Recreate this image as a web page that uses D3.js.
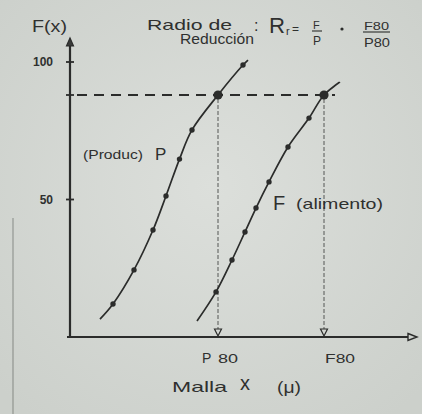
<!DOCTYPE html>
<html>
<head>
<meta charset="utf-8">
<script src="https://cdn.jsdelivr.net/npm/d3@7"></script>
<style>
  html, body { margin: 0; padding: 0; background: #d5d9d4; }
  svg { display: block; }
  text { font-family: "Liberation Sans", "DejaVu Sans", sans-serif; fill: #2f302f; }
</style>
</head>
<body>
<svg id="chart" width="422" height="414"></svg>
<script>
// Cumulative passing F(x) against screen size x, for product (P) and feed (F)
const producMalla = [30, 43, 64, 83, 96, 109.5, 122, 148, 173, 178];
const producF     = [6.5, 12, 24.4, 38.9, 51.3, 64.7, 75.3, 88, 98.9, 100.7];
const producDot   = [false, true, true, true, true, true, true, true, true, false];

const alimMalla = [127, 146, 162, 175, 186, 199, 218, 239, 254, 270];
const alimF     = [5.8, 16.4, 28, 38.2, 46.9, 56.4, 69.1, 79.6, 88, 92.7];
const alimDot   = [false, true, true, true, true, true, true, true, true, false];

// 80 % passing reference level and the sizes read at it
const nivel = 88;
const p80 = 148;
const f80 = 254;

const yTicks = [100, 50];
const yTickLabels = ["100", "50"];

const svg = d3.select("#chart");
const ink = "#2b2c2b";

// paper tone, slightly darker towards the edges
const defs = svg.append("defs");
const grad = defs.append("radialGradient").attr("id", "papel")
  .attr("cx", "50%").attr("cy", "45%").attr("r", "70%");
grad.append("stop").attr("offset", "0%").attr("stop-color", "#dcdfdb");
grad.append("stop").attr("offset", "100%").attr("stop-color", "#ccd0cb");
svg.append("rect").attr("width", 422).attr("height", 414).attr("fill", "url(#papel)");

const x = d3.scaleLinear().domain([0, 350]).range([70, 420]);
const y = d3.scaleLinear().domain([0, 100]).range([337, 62]);

// binding mark on the left of the sheet
svg.append("line")
  .attr("x1", 13).attr("x2", 13).attr("y1", 218).attr("y2", 414)
  .attr("stroke", "#7d807c").attr("stroke-width", 1.1).attr("opacity", 0.8);

// axes
svg.append("line")
  .attr("x1", x(0)).attr("x2", x(0)).attr("y1", y(0)).attr("y2", y(100) - 16)
  .attr("stroke", ink).attr("stroke-width", 2.2);
svg.append("path")
  .attr("d", `M${x(0)},${y(100) - 24} L${x(0) - 3.5},${y(100) - 16} L${x(0) + 3.5},${y(100) - 16} Z`)
  .attr("fill", "#3a3b3a").attr("stroke", ink).attr("stroke-width", 1.2);

svg.append("line")
  .attr("x1", x(0) - 3).attr("x2", x(338)).attr("y1", y(0)).attr("y2", y(0))
  .attr("stroke", ink).attr("stroke-width", 2.2);
svg.append("path")
  .attr("d", `M${x(338)},${y(0) - 3.5} L${x(347)},${y(0)} L${x(338)},${y(0) + 3.5} Z`)
  .attr("fill", "none").attr("stroke", ink).attr("stroke-width", 1.4);

// y ticks and labels
svg.selectAll(".ytick").data(yTicks.concat([nivel])).join("line")
  .attr("x1", x(0) - 4).attr("x2", x(0) + 4)
  .attr("y1", d => y(d)).attr("y2", d => y(d))
  .attr("stroke", ink).attr("stroke-width", 1.8);
svg.selectAll(".ylab").data(yTicks).join("text")
  .attr("x", x(0) - 17).attr("y", d => y(d) + 4)
  .attr("text-anchor", "end").attr("font-size", 12).attr("font-weight", "bold")
  .attr("fill", "#3a3b3a")
  .text((d, i) => yTickLabels[i]);

// 80 % level, dashed
svg.append("line")
  .attr("x1", x(0) + 7).attr("x2", x(f80) + 11)
  .attr("y1", y(nivel)).attr("y2", y(nivel))
  .attr("stroke", ink).attr("stroke-width", 1.8).attr("stroke-dasharray", "10,7");

// drop lines to the axis with open arrow heads
[p80, f80].forEach(v => {
  svg.append("line")
    .attr("x1", x(v)).attr("x2", x(v)).attr("y1", y(nivel) + 4).attr("y2", y(0) - 8)
    .attr("stroke", "#555755").attr("stroke-width", 1).attr("stroke-dasharray", "4,2");
  svg.append("path")
    .attr("d", `M${x(v) - 3.5},${y(0) - 8} L${x(v) + 3.5},${y(0) - 8} L${x(v)},${y(0) - 1} Z`)
    .attr("fill", "none").attr("stroke", ink).attr("stroke-width", 1.2);
});

// curves
const line = d3.line().x(d => x(d[0])).y(d => y(d[1])).curve(d3.curveCatmullRom.alpha(0.5));
function serie(malla, f, dot) {
  const pts = malla.map((m, i) => [m, f[i], dot[i]]);
  svg.append("path").attr("d", line(pts))
    .attr("fill", "none").attr("stroke", ink).attr("stroke-width", 1.7);
  svg.selectAll(null).data(pts.filter(p => p[2])).join("circle")
    .attr("cx", p => x(p[0])).attr("cy", p => y(p[1]))
    .attr("r", p => p[1] === nivel ? 4.6 : 2.7)
    .attr("fill", ink);
}
serie(producMalla, producF, producDot);
serie(alimMalla, alimF, alimDot);

// texts
function txt(s, px, py, size, opts = {}) {
  const t = svg.append("text").attr("x", px).attr("y", py).attr("font-size", size).text(s);
  if (opts.len) t.attr("textLength", opts.len).attr("lengthAdjust", "spacingAndGlyphs");
  if (opts.anchor) t.attr("text-anchor", opts.anchor);
  if (opts.style) t.attr("font-style", opts.style);
  return t;
}

txt("F(x)", 32, 32, 17, { len: 35 });

txt("Radio de", 147, 30, 15, { len: 85 });
txt("Reducción", 180, 44, 14, { len: 74 });
txt(":", 254, 31, 16);
txt("R", 269, 33, 22, { len: 16 });
txt("r", 286, 35, 11);
txt("=", 292, 33, 12);
txt("F", 313, 29, 11);
svg.append("line").attr("x1", 312).attr("x2", 322).attr("y1", 31).attr("y2", 31)
  .attr("stroke", ink).attr("stroke-width", 1.1);
txt("P", 313, 45, 12);
svg.append("circle").attr("cx", 342).attr("cy", 29).attr("r", 1.6).attr("fill", ink);
txt("F80", 364, 30, 11, { len: 25 });
svg.append("line").attr("x1", 363).attr("x2", 390).attr("y1", 32).attr("y2", 32)
  .attr("stroke", ink).attr("stroke-width", 1.1);
txt("P80", 364, 47, 12, { len: 26 });

txt("(Produc)", 83, 159, 13, { len: 60 });
txt("P", 155, 160, 17);

txt("F", 273, 210, 20);
txt("(alimento)", 296, 209, 15, { len: 87 });

txt("P", x(p80) - 16, 363, 14);
txt("80", x(p80), 363, 12, { len: 20 });
txt("F80", x(f80) + 1, 363, 13, { len: 30 });

txt("Malla", 172, 392, 15, { len: 55 });
txt("x", 240, 390, 20);
txt("(μ)", 277, 393, 17, { len: 24 });
</script>
</body>
</html>
